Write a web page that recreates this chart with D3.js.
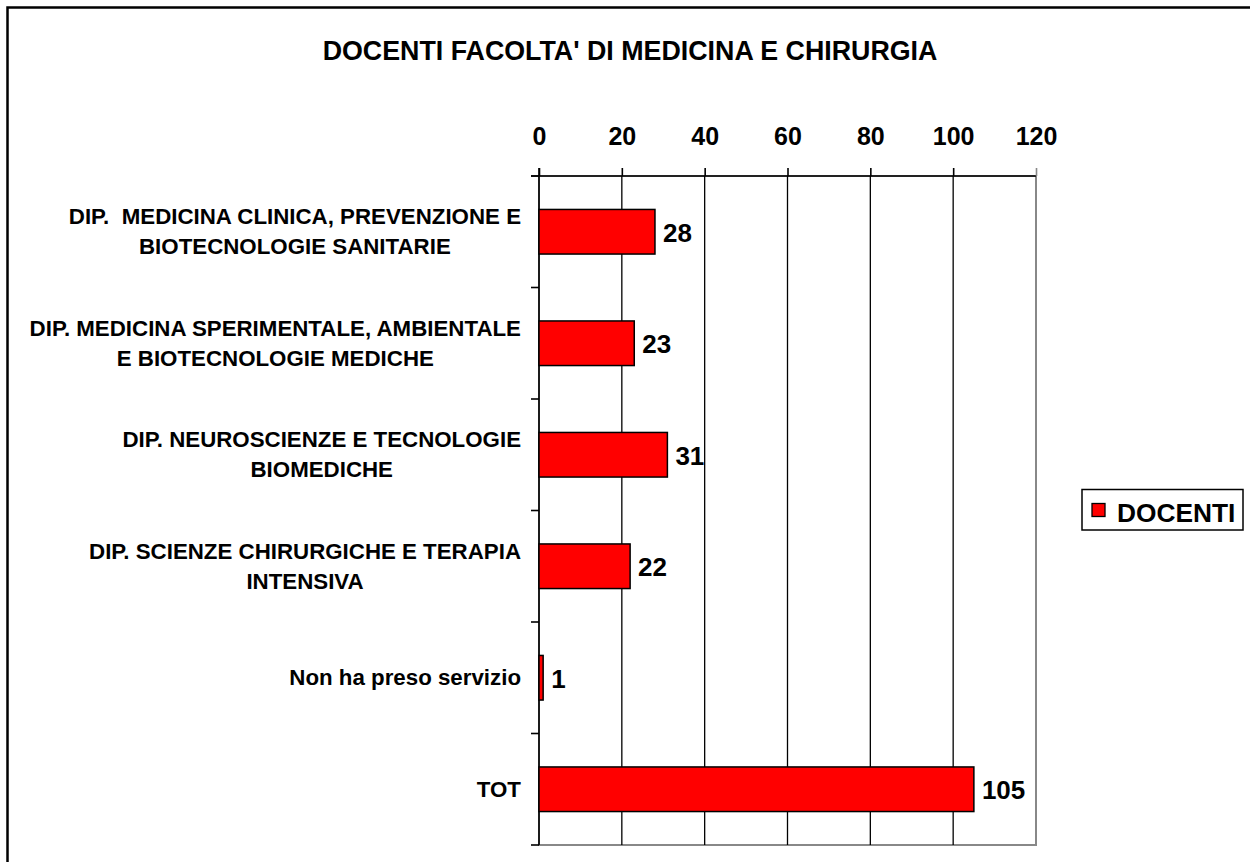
<!DOCTYPE html>
<html>
<head>
<meta charset="utf-8">
<script src="https://cdn.jsdelivr.net/npm/d3@7"></script>
<style>
  body { margin: 0; background: #fff; }
  text { font-family: "Liberation Sans", Arial, sans-serif; font-weight: bold; fill: #000; white-space: pre; }
</style>
</head>
<body>
<div id="chart"></div>
<script>
const width = 1250;
const height = 862;

// data
const categories = ["MCPBS", "MSABM", "NTB", "SCTI", "NHPS", "TOT"];
const categoryLabels = [
  ["DIP.  MEDICINA CLINICA, PREVENZIONE E", "BIOTECNOLOGIE SANITARIE"],
  ["DIP. MEDICINA SPERIMENTALE, AMBIENTALE", "E BIOTECNOLOGIE MEDICHE"],
  ["DIP. NEUROSCIENZE E TECNOLOGIE", "BIOMEDICHE"],
  ["DIP. SCIENZE CHIRURGICHE E TERAPIA", "INTENSIVA"],
  ["Non ha preso servizio"],
  ["TOT"]
];
const docenti = [28, 23, 31, 22, 1, 105];
const xTicks = [0, 20, 40, 60, 80, 100, 120];
const seriesName = "DOCENTI";
const title = "DOCENTI FACOLTA' DI MEDICINA E CHIRURGIA";

const svg = d3.select("#chart")
  .append("svg")
  .attr("width", width)
  .attr("height", height);

// outer frame (runs past the bottom/right edge)
svg.append("rect")
  .attr("x", 7.5)
  .attr("y", 7.5)
  .attr("width", width + 20)
  .attr("height", height + 20)
  .attr("fill", "none")
  .attr("stroke", "#000")
  .attr("stroke-width", 2.5);

svg.append("text")
  .attr("x", 630)
  .attr("y", 59.5)
  .attr("text-anchor", "middle")
  .style("font-size", "26.8px")
  .text(title);

const plot = { left: 539, right: 1036, top: 176, bottom: 845 };

const x = d3.scaleLinear().domain([0, 120]).range([plot.left, plot.right]);
const y = d3.scaleBand()
  .domain(categories)
  .range([plot.top, plot.bottom])
  .paddingInner(0.6)
  .paddingOuter(0.3);

// plot area border (grey right/bottom)
svg.append("rect")
  .attr("x", plot.left)
  .attr("y", plot.top)
  .attr("width", plot.right - plot.left)
  .attr("height", plot.bottom - plot.top)
  .attr("fill", "none")
  .attr("stroke", "#888")
  .attr("stroke-width", 2);

// vertical gridlines
svg.append("g")
  .selectAll("line")
  .data(xTicks.slice(1, -1))
  .enter()
  .append("line")
  .attr("x1", d => x(d))
  .attr("x2", d => x(d))
  .attr("y1", plot.top)
  .attr("y2", plot.bottom)
  .attr("stroke", "#000")
  .attr("stroke-width", 1.3);

// top axis
const xAxis = svg.append("g")
  .attr("transform", `translate(0,${plot.top})`)
  .call(d3.axisTop(x).tickValues(xTicks).tickSize(8).tickPadding(23));
xAxis.select(".domain").attr("stroke-width", 1.6).attr("d", `M${plot.left - 8},0H${plot.right}`);
xAxis.selectAll(".tick line").attr("stroke-width", 1.6);
xAxis.select(".tick:last-of-type line").attr("stroke", "#888");
xAxis.selectAll(".tick text")
  .style("font-size", "25px")
  .style("font-family", "Liberation Sans, Arial, sans-serif")
  .style("font-weight", "bold")
  .attr("fill", "#000");

// left axis line with ticks at band boundaries
const step = y.step();
const boundaries = categories.map(c => y(c) - (step - y.bandwidth()) / 2);
boundaries.push(plot.bottom);

svg.append("line")
  .attr("x1", plot.left)
  .attr("x2", plot.left)
  .attr("y1", plot.top - 8)
  .attr("y2", plot.bottom)
  .attr("stroke", "#000")
  .attr("stroke-width", 1.6);

svg.append("g")
  .selectAll("line")
  .data(boundaries)
  .enter()
  .append("line")
  .attr("x1", plot.left - 8)
  .attr("x2", plot.left)
  .attr("y1", d => d)
  .attr("y2", d => d)
  .attr("stroke", "#000")
  .attr("stroke-width", 1.6);

// category labels: block right-aligned, lines centred within block
const labelRight = 521;
const lineH = 30;
const labelG = svg.append("g")
  .selectAll("g")
  .data(categories)
  .enter()
  .append("g");

labelG.each(function(c, i) {
  const g = d3.select(this);
  const lines = categoryLabels[i];
  const cy = y(c) + y.bandwidth() / 2;
  const texts = lines.map((l, j) => g.append("text")
    .attr("y", cy + 7.5 + (j - (lines.length - 1) / 2) * lineH)
    .attr("text-anchor", "middle")
    .style("font-size", "22.3px")
    .text(l));
  const w = d3.max(texts, t => t.node().getComputedTextLength());
  texts.forEach(t => t.attr("x", labelRight - w / 2));
});

// bars
svg.append("g")
  .selectAll("rect")
  .data(categories)
  .enter()
  .append("rect")
  .attr("x", x(0))
  .attr("y", d => y(d))
  .attr("width", (d, i) => x(docenti[i]) - x(0))
  .attr("height", y.bandwidth())
  .attr("fill", "#ff0000")
  .attr("stroke", "#000")
  .attr("stroke-width", 1.5);

// value labels
svg.append("g")
  .selectAll("text")
  .data(categories)
  .enter()
  .append("text")
  .attr("x", (d, i) => x(docenti[i]) + 8)
  .attr("y", d => y(d) + y.bandwidth() / 2 + 10)
  .style("font-size", "26px")
  .text((d, i) => docenti[i]);

// legend
const legend = svg.append("g").attr("transform", "translate(1082,489.5)");
legend.append("rect")
  .attr("width", 161)
  .attr("height", 40.5)
  .attr("fill", "#fff")
  .attr("stroke", "#000")
  .attr("stroke-width", 1.5);
legend.append("rect")
  .attr("x", 10)
  .attr("y", 14)
  .attr("width", 13)
  .attr("height", 13)
  .attr("fill", "#ff0000")
  .attr("stroke", "#000")
  .attr("stroke-width", 1.3);
legend.append("text")
  .attr("x", 35)
  .attr("y", 32)
  .style("font-size", "26.3px")
  .text(seriesName);
</script>
</body>
</html>
